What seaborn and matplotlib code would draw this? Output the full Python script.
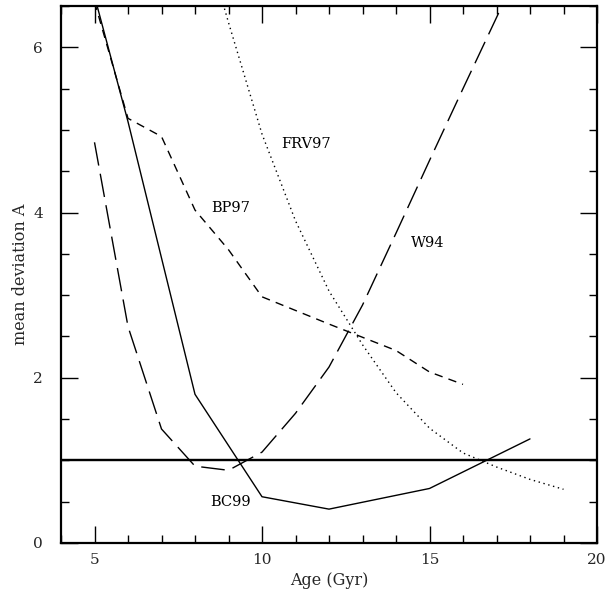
import matplotlib
matplotlib.use("Agg")
import matplotlib.pyplot as plt
from matplotlib.ticker import MultipleLocator
import seaborn as sns
import pandas as pd

# ---- data ----
bc99_age = [5, 6, 8, 10, 12, 15, 18]
bc99_A = [6.62, 5.10, 1.80, 0.56, 0.41, 0.66, 1.26]

bp97_age = [5, 6, 7, 8, 9, 10, 12, 14, 15, 16]
bp97_A = [6.55, 5.14, 4.92, 4.03, 3.55, 2.98, 2.65, 2.33, 2.07, 1.92]

w94_age = [5, 6, 7, 8, 9, 10, 11, 12, 13, 14, 15, 16, 17, 18]
w94_A = [4.85, 2.62, 1.38, 0.93, 0.88, 1.10, 1.57, 2.13, 2.88, 3.75, 4.63, 5.50, 6.36, 7.22]

frv97_age = [8, 9, 10, 11, 12, 13, 14, 15, 16, 17, 18, 19]
frv97_A = [7.70, 6.30, 4.95, 3.90, 3.05, 2.40, 1.82, 1.39, 1.09, 0.92, 0.77, 0.65]

ref_levels = [1.0, 1.02]

labels = ["BC99", "BP97", "W94", "FRV97"]
label_pos = {"BC99": (9.05, 0.5), "BP97": (9.05, 4.05), "W94": (14.95, 3.63), "FRV97": (11.3, 4.83)}

sns.set_style("ticks")
plt.rcParams["font.family"] = ["DejaVu Serif"]

fig = plt.figure(figsize=(6.16, 6.0), dpi=100)
ax = fig.add_axes([61 / 616, 57 / 600, 536 / 616, 537 / 600])

series = {
    "BC99": (bc99_age, bc99_A, None),
    "BP97": (bp97_age, bp97_A, (0, (6, 4.5))),
    "W94": (w94_age, w94_A, (0, (17, 6))),
    "FRV97": (frv97_age, frv97_A, (0, (1, 2.6))),
}

for name in labels:
    age, A, dash = series[name]
    df = pd.DataFrame({"age": age, "A": A})
    line_ls = "-" if dash is None else dash
    sns.lineplot(data=df, x="age", y="A", ax=ax, color="black", lw=1.0,
                 linestyle=line_ls, estimator=None, sort=False)

for lvl in ref_levels:
    ax.axhline(lvl, color="black", lw=1.0)

for name, (x, y) in label_pos.items():
    ax.text(x, y, name, ha="center", va="center", fontsize=10.5, color="black")

ax.set_xlim(4, 20)
ax.set_ylim(0, 6.5)
ax.xaxis.set_major_locator(MultipleLocator(5))
ax.xaxis.set_minor_locator(MultipleLocator(1))
ax.yaxis.set_major_locator(MultipleLocator(2))
ax.yaxis.set_minor_locator(MultipleLocator(0.5))
ax.tick_params(which="both", direction="in", top=True, right=True, color="black",
               labelsize=11, width=1.0)
ax.tick_params(which="major", length=12)
ax.tick_params(axis="x", which="major", pad=7)
ax.tick_params(axis="y", which="major", pad=13)
ax.tick_params(which="minor", length=6)
for sp in ax.spines.values():
    sp.set_visible(True)
    sp.set_linewidth(1.6)
    sp.set_color("black")

ax.set_xlabel("Age (Gyr)", fontsize=11.5, labelpad=4)
ax.set_ylabel("mean deviation A", fontsize=11.5, labelpad=3)

fig.savefig("out.png", dpi=100, facecolor="white")
